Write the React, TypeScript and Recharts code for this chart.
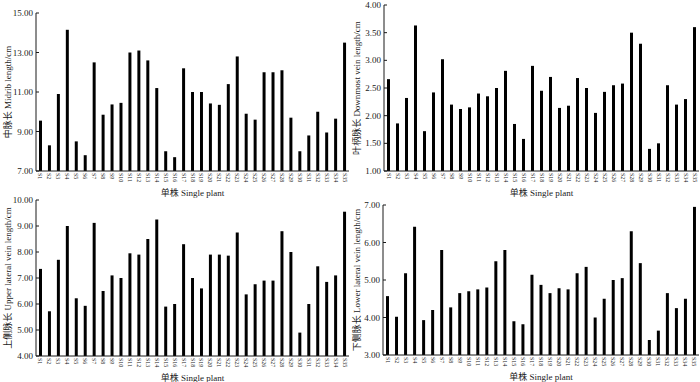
import { BarChart, Bar, XAxis, YAxis } from 'recharts';

const plants = [
  'S1', 'S2', 'S3', 'S4', 'S5', 'S6', 'S7', 'S8', 'S9', 'S10',
  'S11', 'S12', 'S13', 'S14', 'S15', 'S16', 'S17', 'S18', 'S19', 'S20',
  'S21', 'S22', 'S23', 'S24', 'S25', 'S26', 'S27', 'S28', 'S29', 'S30',
  'S31', 'S32', 'S33', 'S34', 'S35',
];

// 中脉长 Midrib length (cm)
const midrib = [
  9.55, 8.3, 10.9, 14.15, 8.5, 7.8, 12.5, 9.85, 10.37, 10.45,
  13.0, 13.1, 12.6, 11.2, 8.0, 7.7, 12.2, 11.0, 11.0, 10.42,
  10.35, 11.4, 12.8, 9.9, 9.6, 12.0, 12.0, 12.1, 9.7, 8.0,
  8.8, 10.0, 8.95, 9.65, 13.5,
];

// 叶柄脉长 Downmost vein length (cm)
const downmost = [
  2.66, 1.86, 2.32, 3.63, 1.72, 2.42, 3.02, 2.2, 2.12, 2.15,
  2.4, 2.35, 2.5, 2.81, 1.85, 1.58, 2.9, 2.45, 2.7, 2.14,
  2.18, 2.68, 2.5, 2.05, 2.43, 2.55, 2.58, 3.5, 3.3, 1.4,
  1.5, 2.55, 2.2, 2.3, 3.6,
];

// 上侧脉长 Upper lateral vein length (cm)
const upperLateral = [
  7.35, 5.72, 7.7, 9.0, 6.22, 5.93, 9.12, 6.5, 7.1, 7.0,
  7.95, 7.9, 8.5, 9.25, 5.9, 6.0, 8.3, 7.0, 6.6, 7.9,
  7.9, 7.86, 8.75, 6.37, 6.76, 6.9, 6.9, 8.8, 8.0, 4.9,
  6.0, 7.45, 6.85, 7.1, 9.55,
];

// 下侧脉长 Lower lateral vein length (cm)
const lowerLateral = [
  4.57, 4.02, 5.18, 6.42, 3.93, 4.2, 5.8, 4.27, 4.65, 4.7,
  4.75, 4.8, 5.5, 5.8, 3.9, 3.82, 5.14, 4.87, 4.65, 4.78,
  4.75, 5.18, 5.35, 4.0, 4.5, 5.0, 5.05, 6.3, 5.45, 3.4,
  3.65, 4.65, 4.25, 4.5, 6.95,
];

const midribTicks = [7, 9, 11, 13, 15];
const downmostTicks = [1, 1.5, 2, 2.5, 3, 3.5, 4];
const upperTicks = [4, 5, 6, 7, 8, 9, 10];
const lowerTicks = [3, 4, 5, 6, 7];

const SERIF = '"Liberation Serif", "Times New Roman", "Noto Sans CJK SC", serif';
const INK = '#1a1a1a';

function PlantTick(props: any) {
  const { x, y, payload } = props;
  return (
    <text
      x={0}
      y={0}
      transform={`translate(${x},${y}) rotate(90)`}
      textAnchor="start"
      dominantBaseline="central"
      fontSize={6}
      fontFamily={SERIF}
      fill={INK}
    >
      {payload.value}
    </text>
  );
}

function ValueTick(props: any) {
  const { x, y, payload } = props;
  return (
    <g>
      <line x1={x + 3} x2={x + 6} y1={y} y2={y} stroke={INK} strokeWidth={1} />
      <text x={x} y={y} textAnchor="end" dominantBaseline="central" fontSize={9} fontFamily={SERIF} fill={INK}>
        {Number(payload.value).toFixed(2)}
      </text>
    </g>
  );
}

interface PanelProps {
  values: number[];
  ticks: number[];
  yLabel: string;
  left: number;
  top: number;
  height: number;
  marginTop: number;
  yWidth: number;
  xHeight: number;
  titleOffset: number;
  yLabelOffset: number;
}

function PlantPanel({ values, ticks, yLabel, left, top, height, marginTop, yWidth, xHeight, titleOffset, yLabelOffset }: PanelProps) {
  const data = plants.map((name, i) => ({ name, value: values[i] }));
  return (
    <div style={{ position: 'absolute', left, top }}>
      <BarChart width={350} height={height} data={data} margin={{ top: marginTop, right: 1, left: 0, bottom: 0 }}>
        <XAxis
          dataKey="name"
          interval={0}
          tick={<PlantTick />}
          tickLine={false}
          tickSize={0}
          tickMargin={2}
          height={xHeight}
          axisLine={{ stroke: INK }}
          label={{ value: '单株  Single plant', position: 'insideBottom', offset: titleOffset, fontSize: 9, fill: INK, fontFamily: SERIF }}
        />
        <YAxis
          type="number"
          domain={[ticks[0], ticks[ticks.length - 1]]}
          ticks={ticks}
          interval={0}
          allowDataOverflow
          width={yWidth}
          tick={<ValueTick />}
          tickLine={false}
          tickSize={0}
          tickMargin={3}
          axisLine={{ stroke: INK }}
          label={{
            value: yLabel,
            angle: -90,
            position: 'insideLeft',
            offset: yLabelOffset,
            fontSize: 9,
            fill: INK,
            fontFamily: SERIF,
            style: { textAnchor: 'middle' },
          }}
        />
        <Bar dataKey="value" fill="#000" barSize={3} isAnimationActive={false} />
      </BarChart>
    </div>
  );
}

export default function App() {
  return (
    <div style={{ position: 'absolute', left: 0, top: 0, width: 700, height: 382, background: '#fff' }}>
      <PlantPanel values={midrib} ticks={midribTicks} yLabel="中脉长  Midrib length/cm"
        left={0} top={0} height={198} marginTop={13} yWidth={36} xHeight={27} titleOffset={2} yLabelOffset={8} />
      <PlantPanel values={downmost} ticks={downmostTicks} yLabel="叶柄脉长  Downmost vein length/cm"
        left={350} top={0} height={198} marginTop={5} yWidth={34} xHeight={27} titleOffset={2} yLabelOffset={7} />
      <PlantPanel values={upperLateral} ticks={upperTicks} yLabel="上侧脉长  Upper lateral vein length/cm"
        left={0} top={187} height={195} marginTop={13} yWidth={36} xHeight={26} titleOffset={1} yLabelOffset={8} />
      <PlantPanel values={lowerLateral} ticks={lowerTicks} yLabel="下侧脉长  Lower lateral vein length/cm"
        left={350} top={187} height={195} marginTop={18} yWidth={33} xHeight={27} titleOffset={2} yLabelOffset={7} />
    </div>
  );
}
